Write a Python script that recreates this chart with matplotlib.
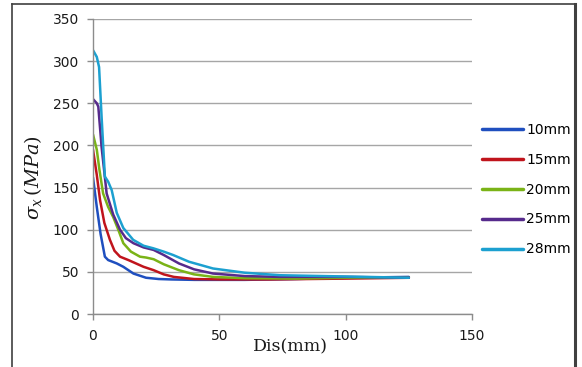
import matplotlib
matplotlib.use("Agg")
import matplotlib.pyplot as plt
from matplotlib.lines import Line2D

W, H = 582, 367

series_names = ["10mm", "15mm", "20mm", "25mm", "28mm"]
colors = ["#1f4fbf", "#c0141c", "#7ab317", "#562a8c", "#1ca0d0"]

x_10 = [0, 1.5, 3, 4.7, 6, 9.4, 12, 16, 21, 26, 31, 40, 60, 80, 100, 125]
y_10 = [162, 127, 95, 68, 64, 60, 56, 48, 43, 41.5, 41, 40.5, 40.5, 41.5, 43, 44]

x_15 = [0, 1.5, 2.8, 4.5, 6.7, 8.5, 10.7, 14, 17, 20, 24, 28, 32, 40, 50, 70, 100, 125]
y_15 = [195, 165, 135, 108, 88, 75, 68, 64, 60, 56, 52, 47, 44, 41.5, 41, 41, 42, 43]

x_20 = [0, 1.5, 2.5, 4, 6, 8, 10, 12, 15, 18.6, 21, 24, 28, 34, 40, 47.5, 60, 80, 100, 125]
y_20 = [213, 195, 172, 143, 127, 115, 100, 84, 74, 68, 67, 65, 59, 52, 47, 44, 42.5, 42, 43, 43]

x_25 = [0, 1.5, 2.1, 3.4, 5.4, 8, 10.7, 13, 16, 20, 24, 28, 34, 40, 47.5, 60, 74, 100, 125]
y_25 = [255, 250, 246, 198, 143, 118, 100, 90, 84, 79, 76, 70, 60, 53, 48, 45, 44, 44, 43]

x_28 = [0, 1.5, 2.4, 3.4, 4.7, 6, 7.4, 9.4, 12, 15.9, 20, 23.8, 28, 31.7, 38, 47.5, 60, 74, 100, 125]
y_28 = [313, 305, 293, 234, 163, 157, 147, 120, 102, 88, 81, 78, 74, 70, 62, 54, 49, 46, 44.5, 43]

xs = [x_10, x_15, x_20, x_25, x_28]
ys = [y_10, y_15, y_20, y_25, y_28]

x_ticks = [0, 50, 100, 150]
y_ticks = [0, 50, 100, 150, 200, 250, 300, 350]

plt.rcParams['font.family'] = ['DejaVu Sans']
plt.rcParams['mathtext.fontset'] = 'dejavuserif'

fig = plt.figure(figsize=(W / 100, H / 100), dpi=100)
ax = fig.add_axes([93 / W, 1 - 314 / H, (472 - 93) / W, (314 - 19) / H])

lines = []
for xv, yv, c, n in zip(xs, ys, colors, series_names):
    ln, = ax.plot(xv, yv, color=c, lw=1.8, label=n, solid_capstyle='round')
    lines.append(ln)

ax.set_xlim(0, 150)
ax.set_ylim(0, 350)
ax.set_xticks(x_ticks)
ax.set_yticks(y_ticks)
ax.grid(axis='y', color='#a6a6a6', lw=1.0)
ax.set_axisbelow(True)
for s in ['top', 'right']:
    ax.spines[s].set_visible(False)
for s in ['left', 'bottom']:
    ax.spines[s].set_color('#8c8c8c')
    ax.spines[s].set_linewidth(1.0)
ax.tick_params(axis='both', colors='#8c8c8c', labelcolor='#1a1a1a', labelsize=10, length=4, width=1.0)
ax.tick_params(axis='x', pad=7)
ax.tick_params(axis='y', pad=6)

fig.text(290 / W, 1 - 347 / H, "Dis(mm)", family='DejaVu Serif', fontsize=12.5,
         ha='center', va='center', color='#1a1a1a')
fig.text(33 / W, 1 - 178 / H, r"$\sigma_x\,(MPa)$", fontsize=14, rotation=90,
         ha='center', va='center', color='#1a1a1a')

leg = fig.legend(handles=lines, loc='upper left', bbox_to_anchor=(476 / W, 1 - 117 / H),
                 frameon=False, fontsize=10, handlelength=3.0, handletextpad=0.2,
                 labelspacing=1.15, borderaxespad=0)
for lh in leg.get_lines():
    lh.set_linewidth(2.5)

# outer frame
fig.add_artist(Line2D([12 / W, 12 / W], [0, 1 - 4 / H], color='#404040', lw=1.2, transform=fig.transFigure))
fig.add_artist(Line2D([12 / W, 575 / W], [1 - 4 / H, 1 - 4 / H], color='#404040', lw=1.2, transform=fig.transFigure))
fig.add_artist(Line2D([575 / W, 575 / W], [0, 1 - 4 / H], color='#404040', lw=2.2, transform=fig.transFigure))

fig.savefig("out.png", dpi=100)
